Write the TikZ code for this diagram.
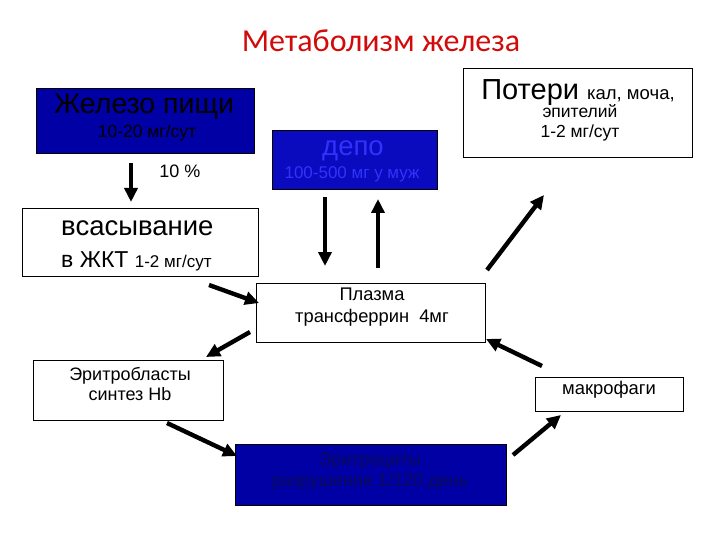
\documentclass[tikz,border=0pt]{standalone}
\usepackage{fontspec}
\setmainfont{Liberation Sans}
\newfontfamily\titlefont{Carlito}
\usetikzlibrary{arrows.meta}
\definecolor{titlered}{RGB}{210,10,10}
\definecolor{bluefill}{RGB}{0,0,165}
\definecolor{depofill}{RGB}{10,10,190}
\definecolor{depotext}{RGB}{50,50,255}
\definecolor{erytext}{RGB}{10,10,90}
\tikzset{
  box/.style={draw=black, line width=0.8pt, anchor=north west, inner sep=0pt},
  bluebox/.style={box, fill=bluefill},
  txt/.style={inner sep=0pt, align=center},
  arr/.style={line width=4.4pt, -{Triangle[length=14pt,width=13pt]}},
}
\begin{document}
\begin{tikzpicture}[x=1pt,y=-1pt]
\useasboundingbox (0,0) rectangle (720,540);
% title
\node[txt, text=titlered, font=\titlefont\fontsize{32}{36}\selectfont] (title) at (381,41) {Метаболизм железа};
% boxes
\node[bluebox, minimum width=218, minimum height=65] (food) at (36,88) {};
\node[box, fill=depofill, minimum width=165, minimum height=59] (depo) at (272,130) {};
\node[box, minimum width=229, minimum height=89] (loss) at (463,68) {};
\node[box, minimum width=236, minimum height=68] (abs) at (22,208) {};
\node[box, minimum width=229, minimum height=59] (plasma) at (256,283) {};
\node[box, minimum width=190, minimum height=60] (eblast) at (33,360) {};
\node[box, minimum width=148, minimum height=34] (macro) at (535,377) {};
\node[bluebox, minimum width=271, minimum height=61] (ery) at (235,444) {};
% texts
\node[txt, font=\fontsize{28.5}{30}\selectfont] (foodt) at (144,107) {Железо пищи};
\node[txt, font=\fontsize{17.5}{19}\selectfont] (foodn) at (147,133) {10-20 мг/сут};
\node[txt, font=\fontsize{18}{20}\selectfont] (pct) at (180,171) {10 \%};
\node[txt, text=depotext, font=\fontsize{27.5}{29}\selectfont] (depot) at (353,151) {депо};
\node[txt, text=depotext, font=\fontsize{17}{19}\selectfont] (depon) at (352,174) {100-500 мг у муж};
\node[txt, anchor=base] (losst) at (578,100) {\fontsize{29}{31}\selectfont Потери \fontsize{18.5}{20}\selectfont кал, моча,};
\node[txt, font=\fontsize{17.5}{19.5}\selectfont] (lossn) at (580,123) {эпителий\\[1pt]1-2 мг/сут};
\node[txt, anchor=base west, font=\fontsize{27.5}{29}\selectfont] (abst) at (61,236) {всасывание};
\node[txt, anchor=base west] (absn) at (61,267) {\fontsize{23}{25}\selectfont в ЖКТ \fontsize{17}{19}\selectfont 1-2 мг/сут};
\node[txt, font=\fontsize{18.3}{21.5}\selectfont] (plasmat) at (372,307) {Плазма\\трансферрин\ \ 4мг};
\node[txt, font=\fontsize{18}{20}\selectfont] (eblastt) at (130,384) {Эритробласты\\синтез Hb};
\node[txt, font=\fontsize{18.4}{20}\selectfont] (macrot) at (609,390) {макрофаги};
\node[txt, text=erytext, font=\fontsize{18}{21}\selectfont] (eryt) at (370,472) {Эритроциты\\разрушение 1/120 день};
% arrow end points
\coordinate (a1s) at (131,163); \coordinate (a1e) at (131,202);
\coordinate (a2s) at (325,197); \coordinate (a2e) at (325,266);
\coordinate (a3s) at (378,268); \coordinate (a3e) at (378,199);
\coordinate (a4s) at (209,285); \coordinate (a4e) at (259,303);
\coordinate (a5s) at (250,332); \coordinate (a5e) at (206,357);
\coordinate (a6s) at (167,423); \coordinate (a6e) at (237,456);
\coordinate (a7s) at (513,455); \coordinate (a7e) at (561,415);
\coordinate (a8s) at (542,366); \coordinate (a8e) at (486,339);
\coordinate (a9s) at (487,270); \coordinate (a9e) at (544,195);
% arrows
\draw[arr] (a1s) -- (a1e);
\draw[arr] (a2s) -- (a2e);
\draw[arr] (a3s) -- (a3e);
\draw[arr] (a4s) -- (a4e);
\draw[arr] (a5s) -- (a5e);
\draw[arr] (a6s) -- (a6e);
\draw[arr] (a7s) -- (a7e);
\draw[arr] (a8s) -- (a8e);
\draw[arr] (a9s) -- (a9e);
\end{tikzpicture}
\end{document}
